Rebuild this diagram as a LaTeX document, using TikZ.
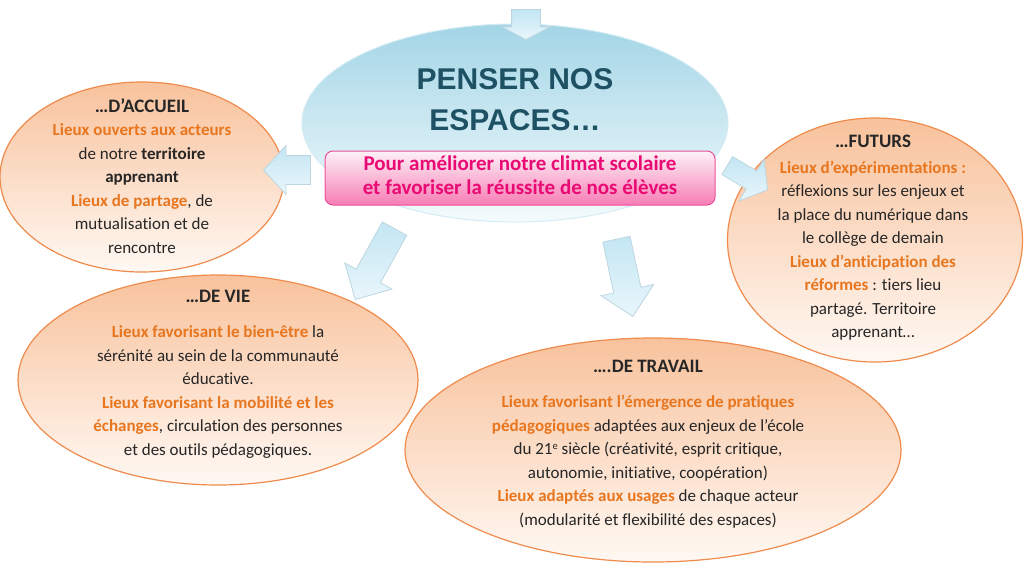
\documentclass[tikz,border=0pt]{standalone}
\usepackage{fontspec}
\setmainfont{Carlito}[Ligatures=NoCommon]
\newfontfamily\titlefont{Liberation Sans}
\usetikzlibrary{shapes.geometric,shapes.arrows}

\definecolor{orangetxt}{HTML}{E8761F}
\definecolor{darktxt}{HTML}{262626}
\definecolor{tealtxt}{HTML}{1D5163}
\definecolor{pinktxt}{HTML}{EA0A73}
\definecolor{peachtop}{HTML}{F8C29C}
\definecolor{peachbot}{HTML}{FFF8F3}
\definecolor{peachline}{HTML}{EF8B4C}
\definecolor{skytop}{HTML}{A3D5E6}
\definecolor{skybot}{HTML}{F4FBFD}
\definecolor{skyline}{HTML}{D3ECF4}
\definecolor{pinktop}{HTML}{FDF2F7}
\definecolor{pinkbot}{HTML}{F77DB5}
\definecolor{pinkline}{HTML}{EE4F9A}
\definecolor{arrowtop}{HTML}{C3E6F3}
\definecolor{arrowbot}{HTML}{E9F6FB}
\definecolor{arrowline}{HTML}{BCD6E0}

\newcommand{\hl}[1]{\textcolor{orangetxt}{\textbf{#1}}}
\newcommand{\titre}[1]{{\fontsize{19}{23.5}\selectfont\textbf{#1}}}
\newcommand{\expo}[1]{\raisebox{5.5pt}{\fontsize{10.5}{10.5}\selectfont #1}}

\begin{document}
\begin{tikzpicture}[x=1pt, y=-1pt,
  bubble/.style={ellipse, draw=peachline, line width=1.2pt, top color=peachtop, bottom color=peachbot, inner sep=0pt},
  bubbletext/.style={align=center, text=darktxt, font=\fontsize{17}{23.5}\selectfont},
  bigarrow/.style={single arrow, draw=arrowline, line width=0.8pt, top color=arrowtop, bottom color=arrowbot, inner xsep=0pt, anchor=tip}]

\useasboundingbox (0,0) rectangle (1024,568);

% ellipses
\node [ellipse, draw=skyline, line width=1pt, top color=skytop, bottom color=skybot, minimum width=426pt, minimum height=198pt] (centre) at (515,123) {};
\node [bubble, minimum width=284pt, minimum height=190pt] (accueil) at (142,177) {};
\node [bubble, minimum width=400pt, minimum height=210pt] (vie) at (218,380) {};
\node [bubble, minimum width=496pt, minimum height=224pt] (travail) at (653,450) {};
\node [bubble, minimum width=295pt, minimum height=244pt] (futurs) at (875,240) {};

% centre
\node [align=center, text=tealtxt, font=\titlefont\fontsize{30}{41}\selectfont\bfseries] (titre) at (515,100) {PENSER NOS\\ESPACES…};
\node [draw=pinkline, line width=1pt, rounded corners=8pt, top color=pinktop, bottom color=pinkbot, minimum width=390pt, minimum height=54pt] (but) at (520,178) {};
\node [align=center, text=pinktxt, font=\fontsize{21}{24}\selectfont\bfseries] (buttxt) at (520,175) {Pour améliorer notre climat scolaire\\et favoriser la réussite de nos élèves};

% textes
\node [bubbletext] (accueiltxt) at (142,176) {\titre{…D’ACCUEIL}\\
\hl{Lieux ouverts aux acteurs}\\
de notre \textbf{territoire}\\
\textbf{apprenant}\\
\hl{Lieux de partage}, de\\
mutualisation et de\\
rencontre};

\node [bubbletext] (vietxt) at (218,374) {\titre{…DE VIE}\\[12pt]
\hl{Lieux favorisant le bien-être} la\\
sérénité au sein de la communauté\\
éducative.\\
\hl{Lieux favorisant la mobilité et les}\\
\hl{échanges}, circulation des personnes\\
et des outils pédagogiques.};

\node [bubbletext] (travailtxt) at (648,444) {\titre{….DE TRAVAIL}\\[12pt]
\hl{Lieux favorisant l’émergence de pratiques}\\
\hl{pédagogiques} adaptées aux enjeux de l’école\\
du 21\expo{e} siècle (créativité, esprit critique,\\
autonomie, initiative, coopération)\\
\hl{Lieux adaptés aux usages} de chaque acteur\\
(modularité et flexibilité des espaces)};

\node [bubbletext] (futurstxt) at (873,238) {\titre{…FUTURS}\\[2pt]
\hl{Lieux d’expérimentations :}\\
réflexions sur les enjeux et\\
la place du numérique dans\\
le collège de demain\\
\hl{Lieux d’anticipation des}\\
\hl{réformes} : tiers lieu\\
partagé. Territoire\\
apprenant…};

% fleches
\node [bigarrow, rotate=-90, minimum height=30pt, inner ysep=14pt, single arrow head extend=10pt, single arrow tip angle=125] (flhaut) at (526,40) {};
\node [bigarrow, rotate=180, minimum height=47pt, inner ysep=14pt, single arrow head extend=10pt, single arrow tip angle=95] (flaccueil) at (263,170) {};
\node [bigarrow, rotate=-31, minimum height=47pt, inner ysep=10pt, single arrow head extend=14pt, single arrow tip angle=105] (flfuturs) at (768,190) {};
\node [bigarrow, rotate=241, minimum height=81pt, inner ysep=13.5pt, single arrow head extend=13pt] (flvie) at (355,300) {};
\node [bigarrow, rotate=282, minimum height=79pt, inner ysep=13.5pt, single arrow head extend=13pt] (fltravail) at (633,317) {};

\end{tikzpicture}
\end{document}
